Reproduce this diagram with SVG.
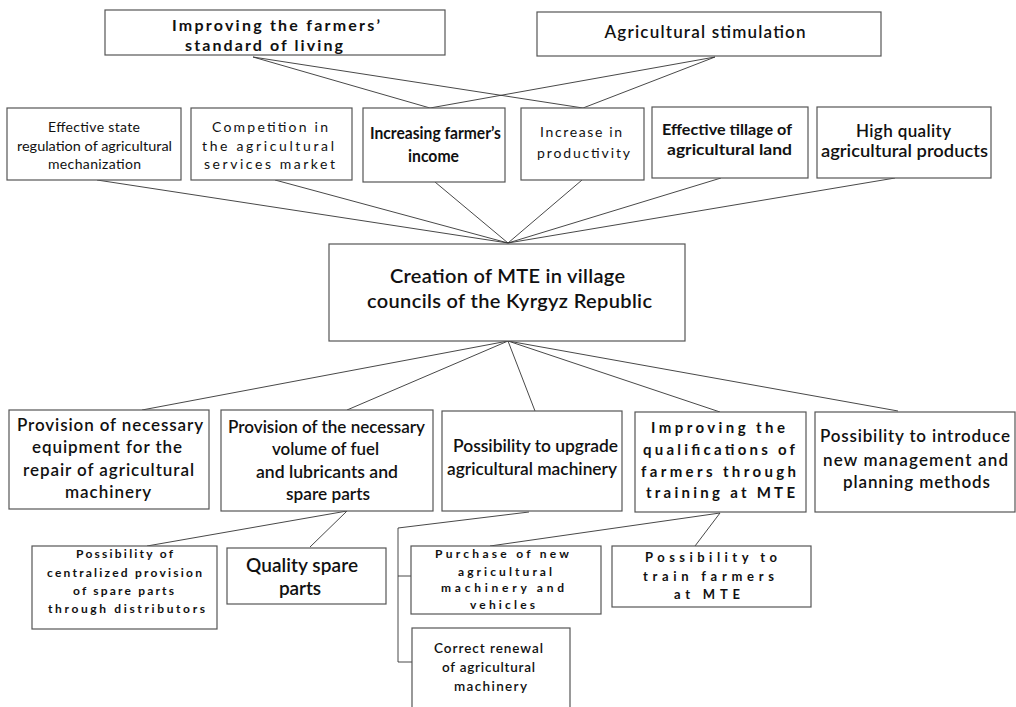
<svg xmlns="http://www.w3.org/2000/svg" width="1016" height="707" viewBox="0 0 1016 707">
<style>
rect{fill:#fff;stroke:#555;stroke-width:1.2}
.c line,.c polyline{stroke:#333;stroke-width:0.9;fill:none}
text{font-family:Lato,"Open Sans","Liberation Sans",sans-serif;fill:#111;text-anchor:middle}
.b{font-weight:700}
.s{font-weight:600}
.n{font-weight:400}
</style>
<rect x="0" y="0" width="1016" height="707" style="stroke:none"/>
<g class="c" id="connectors">
<line x1="253" y1="57" x2="430" y2="108"/>
<line x1="253" y1="57" x2="583" y2="108"/>
<line x1="715" y1="57" x2="430" y2="108"/>
<line x1="715" y1="57" x2="583" y2="108"/>
<line x1="97" y1="180" x2="508" y2="243"/>
<line x1="275" y1="180" x2="508" y2="243"/>
<line x1="435" y1="182" x2="508" y2="243"/>
<line x1="582" y1="180" x2="508" y2="243"/>
<line x1="721" y1="178" x2="508" y2="243"/>
<line x1="895" y1="178" x2="508" y2="243"/>
<line x1="508" y1="341" x2="142" y2="410"/>
<line x1="508" y1="341" x2="347" y2="410"/>
<line x1="508" y1="341" x2="535" y2="411"/>
<line x1="508" y1="341" x2="720" y2="412"/>
<line x1="508" y1="341" x2="898" y2="411"/>
<line x1="347" y1="511" x2="147" y2="546"/>
<line x1="347" y1="511" x2="310" y2="547"/>
<line x1="529" y1="512" x2="398" y2="528"/>
<polyline points="398,528 398,662 412,662"/>
<line x1="398" y1="576" x2="411" y2="576"/>
<line x1="720" y1="513" x2="490" y2="546"/>
<line x1="720" y1="513" x2="695" y2="546"/>
</g>
<g id="top1">
<rect x="105" y="10" width="340" height="45"/>
<text class="b" font-size="16" x="276" y="31" textLength="208">Improving the farmers’</text>
<text class="b" font-size="16" x="264" y="51" textLength="158">standard of living</text>
</g>
<g id="top2">
<rect x="537" y="12" width="344" height="44"/>
<text class="s" font-size="17" x="705" y="38" textLength="201">Agricultural stimulation</text>
</g>
<g id="regulation">
<rect x="7" y="108" width="174" height="72"/>
<text class="n" font-size="14" x="94" y="132" textLength="92">Effective state</text>
<text class="n" font-size="14" x="94.5" y="151" textLength="155" lengthAdjust="spacingAndGlyphs">regulation of agricultural</text>
<text class="n" font-size="14" x="94.5" y="169" textLength="93">mechanization</text>
</g>
<g id="competition">
<rect x="191" y="108" width="161" height="72"/>
<text class="n" font-size="14" x="270" y="132" textLength="116">Competition in</text>
<text class="n" font-size="14" x="268" y="151" textLength="132">the agricultural</text>
<text class="n" font-size="14" x="269.5" y="169" textLength="131">services market</text>
</g>
<g id="income">
<rect x="363" y="108" width="142" height="74"/>
<text class="b" font-size="17" x="435.5" y="139" textLength="131" lengthAdjust="spacingAndGlyphs">Increasing farmer’s</text>
<text class="b" font-size="17" x="433.5" y="162" textLength="51" lengthAdjust="spacingAndGlyphs">income</text>
</g>
<g id="productivity">
<rect x="521" y="108" width="123" height="72"/>
<text class="n" font-size="14" x="581" y="137" textLength="82">Increase in</text>
<text class="n" font-size="14" x="583.5" y="158" textLength="93">productivity</text>
</g>
<g id="tillage">
<rect x="652" y="107" width="156" height="71"/>
<text class="b" font-size="15" x="727" y="135" textLength="130" lengthAdjust="spacingAndGlyphs">Effective tillage of</text>
<text class="b" font-size="15" x="729.5" y="155" textLength="125" lengthAdjust="spacingAndGlyphs">agricultural land</text>
</g>
<g id="quality-products">
<rect x="817" y="107" width="174" height="71"/>
<text class="s" font-size="17" x="903.5" y="137" textLength="95">High quality</text>
<text class="s" font-size="17" x="904.5" y="157" textLength="167" lengthAdjust="spacingAndGlyphs">agricultural products</text>
</g>
<g id="center">
<rect x="329" y="244" width="356" height="97"/>
<text class="s" font-size="20" x="507.5" y="283" textLength="235">Creation of MTE in village</text>
<text class="s" font-size="20" x="509.5" y="308" textLength="285">councils of the Kyrgyz Republic</text>
</g>
<g id="equipment">
<rect x="9" y="410" width="200" height="99"/>
<text class="s" font-size="17" x="110" y="431" textLength="186">Provision of necessary</text>
<text class="s" font-size="17" x="107" y="453" textLength="150">equipment for the</text>
<text class="s" font-size="17" x="108.5" y="476" textLength="171">repair of agricultural</text>
<text class="s" font-size="17" x="108" y="498" textLength="86">machinery</text>
</g>
<g id="fuel">
<rect x="221" y="410" width="212" height="101"/>
<text class="s" font-size="17" x="326.5" y="433" textLength="197" lengthAdjust="spacingAndGlyphs">Provision of the necessary</text>
<text class="s" font-size="17" x="325.5" y="455" textLength="107" lengthAdjust="spacingAndGlyphs">volume of fuel</text>
<text class="s" font-size="17" x="327" y="478" textLength="142" lengthAdjust="spacingAndGlyphs">and lubricants and</text>
<text class="s" font-size="17" x="328" y="500" textLength="84" lengthAdjust="spacingAndGlyphs">spare parts</text>
</g>
<g id="upgrade">
<rect x="442" y="411" width="180" height="100"/>
<text class="s" font-size="17" x="535.5" y="452" textLength="165" lengthAdjust="spacingAndGlyphs">Possibility to upgrade</text>
<text class="s" font-size="17" x="532" y="475" textLength="170" lengthAdjust="spacingAndGlyphs">agricultural machinery</text>
</g>
<g id="qualifications">
<rect x="635" y="412" width="171" height="100"/>
<text class="b" font-size="15" x="718" y="433" textLength="134">Improving the</text>
<text class="b" font-size="15" x="719" y="455" textLength="152">qualifications of</text>
<text class="b" font-size="15" x="718.5" y="477" textLength="155">farmers through</text>
<text class="b" font-size="15" x="720.5" y="498" textLength="149">training at MTE</text>
</g>
<g id="management">
<rect x="815" y="412" width="200" height="100"/>
<text class="s" font-size="17" x="915" y="442" textLength="190">Possibility to introduce</text>
<text class="s" font-size="17" x="915.5" y="466" textLength="185">new management and</text>
<text class="s" font-size="17" x="916.5" y="488" textLength="147">planning methods</text>
</g>
<g id="centralized">
<rect x="32" y="546" width="185" height="83"/>
<text class="b" font-size="12" x="124.5" y="558" textLength="97">Possibility of</text>
<text class="b" font-size="12" x="124.5" y="577" textLength="155">centralized provision</text>
<text class="b" font-size="12" x="123.5" y="595" textLength="101">of spare parts</text>
<text class="b" font-size="12" x="126.5" y="613" textLength="157">through distributors</text>
</g>
<g id="spare-parts">
<rect x="227" y="548" width="159" height="56"/>
<text class="s" font-size="19" x="302" y="572" textLength="112">Quality spare</text>
<text class="s" font-size="19" x="300" y="595" textLength="42">parts</text>
</g>
<g id="purchase">
<rect x="411" y="546" width="190" height="68"/>
<text class="b" font-size="12" x="502" y="558" textLength="134">Purchase of new</text>
<text class="b" font-size="12" x="505" y="576" textLength="94">agricultural</text>
<text class="b" font-size="12" x="502.5" y="592" textLength="123">machinery and</text>
<text class="b" font-size="12" x="502.5" y="609" textLength="65">vehicles</text>
</g>
<g id="renewal">
<rect x="412" y="628" width="158" height="90"/>
<text class="s" font-size="13.5" x="488.5" y="653" textLength="109">Correct renewal</text>
<text class="s" font-size="13.5" x="488.5" y="672" textLength="93">of agricultural</text>
<text class="s" font-size="13.5" x="490.5" y="691" textLength="73">machinery</text>
</g>
<g id="train">
<rect x="612" y="546" width="199" height="61"/>
<text class="b" font-size="13" x="711" y="562" textLength="132">Possibility to</text>
<text class="b" font-size="13" x="708.5" y="581" textLength="131">train farmers</text>
<text class="b" font-size="13" x="707" y="599" textLength="66">at MTE</text>
</g>
</svg>
